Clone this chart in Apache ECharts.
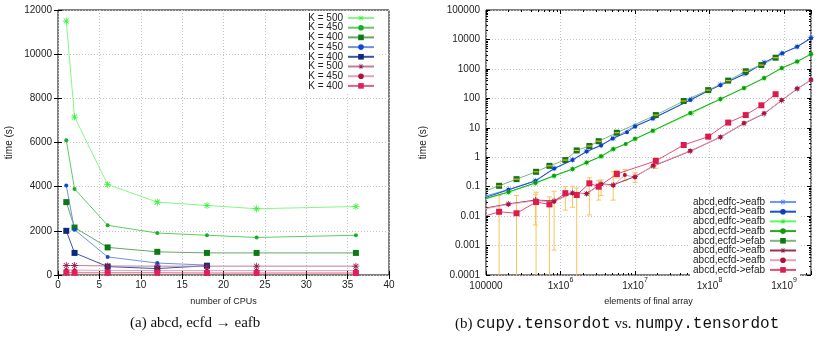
<!DOCTYPE html>
<html><head><meta charset="utf-8">
<script src="https://cdn.jsdelivr.net/npm/echarts@6/dist/echarts.min.js"></script>
<style>html,body{margin:0;padding:0;background:#fff}#c{width:830px;height:337px}</style>
</head><body><div id="c"></div>
<script>
// ---------- Left panel data (number of CPUs vs time) ----------
const cpuX = [1, 2, 6, 12, 18, 24, 36];
const k500green = [11500, 7150, 4100, 3300, 3150, 3000, 3100];
const k450green = [6100, 3900, 2250, 1900, 1800, 1700, 1800];
const k400green = [3300, 2150, 1250, 1050, 1000, 1000, 1000];
const cpuXblue = [1, 2, 6, 12, 18];
const k450blue = [4050, 2050, 820, 540, 450];
const k400blue = [2000, 1000, 380, 290, 420];
const k500red = [430, 430, 410, 400, 400, 400, 400];
const k450red = [230, 220, 210, 200, 200, 200, 200];
const k400red = [110, 100, 100, 100, 90, 90, 90];
const leftNames = ['K = 500', 'K = 450', 'K = 400', 'K = 450', 'K = 400', 'K = 500', 'K = 450', 'K = 400'];
const leftXTicks = [0, 5, 10, 15, 20, 25, 30, 35, 40];
const leftYTicks = [0, 2000, 4000, 6000, 8000, 10000, 12000];

// ---------- Right panel data (elements of final array vs time) ----------
const blueAstX = [9e4, 2e5, 4.6e5, 8.2e5, 1.45e6, 2.24e6, 3.5e6, 5.1e6, 1e7, 1.75e7, 5.7e7, 1.4e8, 2.9e8, 5.4e8, 9.3e8, 1.5e9, 2.3e9];
const blueAstY = [0.045, 0.08, 0.16, 0.42, 0.82, 1.6, 2.6, 4.4, 11.5, 21, 93, 290, 670, 1650, 3300, 5700, 11500];
const blueDotX = [9e4, 2e5, 4.6e5, 8.2e5, 1.45e6, 2.24e6, 3.5e6, 5e6, 7.8e6, 1e7, 1.73e7, 5.5e7, 1e8, 1.4e8, 3.1e8, 5.4e8, 9.5e8, 1.5e9, 2.3e9];
const blueDotY = [0.04, 0.078, 0.155, 0.41, 0.8, 1.55, 2.5, 4.3, 7, 11, 20.5, 87, 190, 280, 700, 1600, 3400, 5600, 11000];
const greenAstX = [9e4, 2e5, 4.6e5, 8.2e5, 1.45e6, 2.24e6, 3.5e6, 5.1e6, 1e7, 1.75e7, 5.7e7, 1.4e8, 2.9e8, 5.4e8, 9.3e8, 1.5e9, 2.3e9];
const greenAstY = [0.036, 0.064, 0.13, 0.23, 0.39, 0.65, 1.05, 1.85, 4.1, 7.9, 31, 93, 220, 480, 1050, 1750, 3150];
const greenDotX = [9e4, 2e5, 4.6e5, 8.2e5, 1.45e6, 2.24e6, 3.5e6, 5.1e6, 7.5e6, 1e7, 1.73e7, 5.5e7, 1.4e8, 2.9e8, 5.4e8, 9.3e8, 1.5e9, 2.3e9];
const greenDotY = [0.037, 0.066, 0.135, 0.235, 0.4, 0.66, 1.07, 1.9, 2.8, 4.2, 8, 32, 95, 225, 490, 1070, 1780, 3200];
const sqX = [9e4, 1.5e5, 2.57e5, 4.7e5, 7.1e5, 1.16e6, 1.65e6, 2.44e6, 3.25e6, 5.7e6, 1.9e7, 4.5e7, 9.6e7, 1.78e8, 3.06e8, 4.96e8, 7.7e8];
const greenSqY = [0.065, 0.107, 0.18, 0.32, 0.51, 0.8, 1.7, 2.4, 3.5, 6.8, 27, 81, 190, 400, 830, 1350, 2400];
const redSqY = [0.0095, 0.014, 0.0125, 0.03, 0.025, 0.06, 0.052, 0.13, 0.1, 0.27, 0.75, 2.6, 5, 15, 27, 58, 138];
const redAstX = [9e4, 2e5, 4.6e5, 8.2e5, 1.45e6, 2.24e6, 3.5e6, 5.1e6, 1e7, 1.75e7, 5.5e7, 1.4e8, 2.9e8, 5.4e8, 9.3e8, 1.5e9, 2.3e9];
const redAstY = [0.018, 0.026, 0.035, 0.033, 0.062, 0.058, 0.125, 0.115, 0.22, 0.5, 1.6, 4.8, 14, 30, 85, 210, 420];
const redDotX = [9e4, 2e5, 4.6e5, 8.2e5, 1.45e6, 2.24e6, 3.5e6, 5.1e6, 7.3e6, 1e7, 1.75e7, 5.5e7, 1.4e8, 2.9e8, 5.4e8, 9.3e8, 1.5e9, 2.3e9];
const redDotY = [0.017, 0.025, 0.033, 0.031, 0.06, 0.057, 0.12, 0.11, 0.25, 0.21, 0.52, 1.65, 4.9, 14.5, 31, 87, 215, 425];
const errX = [1.5e5, 2.57e5, 4.6e5, 4.7e5, 7.1e5, 8.2e5, 1.16e6, 1.45e6, 1.65e6, 2.44e6, 3.25e6, 3.5e6, 5.1e6, 5.7e6, 7.3e6, 1e7, 1.9e7];
const errLow = [1e-5, 1e-5, 0.005, 1e-5, 1e-5, 0.0007, 0.016, 0.02, 1e-5, 0.011, 0.035, 0.05, 0.035, 0.2, 0.16, 0.14, 0.42];
const errHigh = [0.05, 0.05, 0.055, 0.065, 0.045, 0.07, 0.1, 0.1, 0.09, 0.2, 0.16, 0.17, 0.33, 0.35, 0.38, 0.3, 0.95];
const rightNames = ['abcd,edfc->eafb', 'abcd,ecfd->eafb', 'abcd,edfc->eafb', 'abcd,ecfd->eafb', 'abcd,ecfd->efab', 'abcd,edfc->eafb', 'abcd,ecfd->eafb', 'abcd,ecfd->efab'];

const FONT = 'Liberation Sans';
const AST = 'path://M-0.9,-8L0.9,-8L0.9,8L-0.9,8ZM-8,-0.9L8,-0.9L8,0.9L-8,0.9ZM-6.3,-5L-5,-6.3L6.3,5L5,6.3ZM5,-6.3L6.3,-5L-5,6.3L-6.3,5Z';
const pairs = (xs, ys) => xs.map((x, i) => [x, ys[i]]);

const leftIds = ['a1','a2','a3','a4','a5','a6','a7','a8'];
const rightIds = ['b1','b2','b3','b4','b5','b6','b7','b8'];
const nameMap = {};
leftIds.forEach((id, i) => nameMap[id] = leftNames[i]);
rightIds.forEach((id, i) => nameMap[id] = rightNames[i]);

function ls(id, xi, yi, data, sym, size, markColor, lineColor) {
  return {
    type: 'line', name: id, xAxisIndex: xi, yAxisIndex: yi, data: data,
    symbol: sym, symbolSize: size, showSymbol: true, clip: true,
    itemStyle: { color: markColor }, lineStyle: { color: lineColor, width: 1 },
    emphasis: { disabled: true }, animation: false, z: 3
  };
}

const gridLine = { show: true, lineStyle: { color: '#c4c4c4', type: [1, 2], width: 1 } };
const tickIn = { show: true, inside: true, length: 4, lineStyle: { color: '#000' } };
const labelStyle = { fontFamily: FONT, fontSize: 10, color: '#222' };

function xLogLabel(v) {
  const e = Math.round(Math.log10(v));
  if (e === 5) return '{b|100000}';
  return '{b|1x10}{s|' + e + '}';
}
function yLogLabel(v) {
  const e = Math.round(Math.log10(v));
  return e >= 0 ? String(Math.pow(10, e)) : Math.pow(10, e).toFixed(-e);
}

const series = [
  ls('a1', 0, 0, pairs(cpuX, k500green), AST, 7, '#3cf03c', '#86f886'),
  ls('a2', 0, 0, pairs(cpuX, k450green), 'circle', 4, '#14b024', '#5ccc60'),
  ls('a3', 0, 0, pairs(cpuX, k400green), 'rect', 6, '#0b7a16', '#64a866'),
  ls('a4', 0, 0, pairs(cpuXblue, k450blue), 'circle', 4, '#1048d0', '#7090e0'),
  ls('a5', 0, 0, pairs(cpuXblue, k400blue), 'rect', 6, '#0c2a7c', '#3656a8'),
  ls('a6', 0, 0, pairs(cpuX, k500red), AST, 7, '#8c2050', '#c07f98'),
  ls('a7', 0, 0, pairs(cpuX, k450red), 'circle', 4, '#b01040', '#e8a0b8'),
  ls('a8', 0, 0, pairs(cpuX, k400red), 'rect', 6, '#e0205a', '#e06080'),
  {
    type: 'custom', xAxisIndex: 2, yAxisIndex: 2, clip: true, z: 1, animation: false, silent: true,
    data: errX.map((x, i) => [x, errLow[i], errHigh[i]]),
    renderItem: function (params, api) {
      const x = api.value(0);
      const p1 = api.coord([x, api.value(2)]);
      const p2 = api.coord([x, api.value(1)]);
      const st = { stroke: '#fbc35a', lineWidth: 1 };
      return { type: 'group', children: [
        { type: 'line', shape: { x1: p1[0], y1: p1[1], x2: p2[0], y2: p2[1] }, style: st },
        { type: 'line', shape: { x1: p1[0] - 2.5, y1: p1[1], x2: p1[0] + 2.5, y2: p1[1] }, style: st },
        { type: 'line', shape: { x1: p2[0] - 2.5, y1: p2[1], x2: p2[0] + 2.5, y2: p2[1] }, style: st }
      ] };
    }
  },
  ls('b1', 2, 2, pairs(blueAstX, blueAstY), AST, 6, '#4a7cf0', '#6a98ff'),
  ls('b2', 2, 2, pairs(blueDotX, blueDotY), 'circle', 4, '#0a3fc0', '#1a4fd0'),
  ls('b3', 2, 2, pairs(greenAstX, greenAstY), AST, 6, '#33ee33', '#55ff55'),
  ls('b4', 2, 2, pairs(greenDotX, greenDotY), 'circle', 4, '#119911', '#22aa22'),
  ls('b5', 2, 2, pairs(sqX, greenSqY), 'rect', 6, '#117711', '#77bb77'),
  ls('b6', 2, 2, pairs(redAstX, redAstY), AST, 6, '#8a2045', '#993355'),
  ls('b7', 2, 2, pairs(redDotX, redDotY), 'circle', 4, '#b01040', '#e8a0b5'),
  ls('b8', 2, 2, pairs(sqX, redSqY), 'rect', 6, '#dd1a50', '#e05075'),
  {
    type: 'custom', xAxisIndex: 2, yAxisIndex: 2, clip: true, z: 5, animation: false, silent: true,
    data: pairs(sqX, greenSqY),
    renderItem: function (params, api) {
      const p = api.coord([api.value(0), api.value(1)]);
      return { type: 'line', shape: { x1: p[0] - 2.5, y1: p[1], x2: p[0] + 2.5, y2: p[1] }, style: { stroke: '#f0b030', lineWidth: 1.2 } };
    }
  }
];

const legendBase = {
  orient: 'vertical', align: 'right', itemWidth: 26, itemHeight: 7, itemGap: -0.3,
  backgroundColor: '#fff', padding: [1, 3, 1, 3],
  textStyle: { fontFamily: FONT, fontSize: 10, color: '#222' },
  formatter: n => nameMap[n], selectedMode: false
};

const option = {
  animation: false,
  grid: [
    { left: 58, top: 10, width: 331, height: 265, show: true, borderColor: '#000', borderWidth: 1, backgroundColor: 'transparent' },
    { left: 486, top: 10, width: 325, height: 265, show: true, borderColor: '#000', borderWidth: 1, backgroundColor: 'transparent' }
  ],
  legend: [
    Object.assign({}, legendBase, { data: leftIds, right: 452, top: 12 }),
    Object.assign({}, legendBase, { data: rightIds, right: 30, top: 196 })
  ],
  xAxis: [
    { type: 'value', gridIndex: 0, min: leftXTicks[0], max: leftXTicks[leftXTicks.length - 1], interval: 5,
      name: 'number of CPUs', nameLocation: 'middle', nameGap: 22, nameTextStyle: { fontFamily: FONT, fontSize: 9, color: '#222' },
      axisLine: { show: false }, axisTick: tickIn, axisLabel: Object.assign({ margin: 5, formatter: v => String(v) }, labelStyle), splitLine: gridLine },
    { type: 'value', gridIndex: 0, position: 'top', min: 0, max: 40, interval: 5,
      axisLine: { show: false }, axisTick: tickIn, axisLabel: { show: false }, splitLine: { show: false } },
    { type: 'log', logBase: 10, gridIndex: 1, min: 1e5, max: 2.3e9,
      name: 'elements of final array', nameLocation: 'middle', nameGap: 22, nameTextStyle: { fontFamily: FONT, fontSize: 9, color: '#222' },
      axisLine: { show: false }, axisTick: tickIn,
      minorTick: { show: true, splitNumber: 9, length: 2, lineStyle: { color: '#000' } },
      axisLabel: { margin: 2, showMaxLabel: false, formatter: xLogLabel, fontFamily: FONT, fontSize: 10, color: '#222',
        rich: { b: { fontFamily: FONT, fontSize: 10, color: '#222', lineHeight: 14, verticalAlign: 'bottom' },
                s: { fontFamily: FONT, fontSize: 7, color: '#222', lineHeight: 14, verticalAlign: 'top' } } },
      splitLine: gridLine },
    { type: 'log', logBase: 10, gridIndex: 1, position: 'top', min: 1e5, max: 2.3e9,
      axisLine: { show: false }, axisTick: tickIn, minorTick: { show: true, splitNumber: 9, length: 2, lineStyle: { color: '#000' } },
      axisLabel: { show: false }, splitLine: { show: false } }
  ],
  yAxis: [
    { type: 'value', gridIndex: 0, min: leftYTicks[0], max: leftYTicks[leftYTicks.length - 1], interval: 2000,
      name: 'time (s)', nameLocation: 'middle', nameGap: 44, nameTextStyle: { fontFamily: FONT, fontSize: 10, color: '#222' },
      axisLine: { show: false }, axisTick: tickIn, axisLabel: Object.assign({ margin: 6, formatter: v => String(v) }, labelStyle), splitLine: gridLine },
    { type: 'value', gridIndex: 0, position: 'right', min: 0, max: 12000, interval: 2000,
      axisLine: { show: false }, axisTick: tickIn, axisLabel: { show: false }, splitLine: { show: false } },
    { type: 'log', logBase: 10, gridIndex: 1, min: 1e-4, max: 1e5,
      name: 'time (s)', nameLocation: 'middle', nameGap: 58, nameTextStyle: { fontFamily: FONT, fontSize: 10, color: '#222' },
      axisLine: { show: false }, axisTick: tickIn, minorTick: { show: true, splitNumber: 9, length: 2, lineStyle: { color: '#000' } },
      axisLabel: Object.assign({ margin: 6, formatter: yLogLabel }, labelStyle), splitLine: gridLine },
    { type: 'log', logBase: 10, gridIndex: 1, position: 'right', min: 1e-4, max: 1e5,
      axisLine: { show: false }, axisTick: tickIn, minorTick: { show: true, splitNumber: 9, length: 2, lineStyle: { color: '#000' } },
      axisLabel: { show: false }, splitLine: { show: false } }
  ],
  graphic: [
    { type: 'text', left: 130, top: 316, style: { text: '(a) abcd, ecfd \u2192 eafb', font: '15px "Liberation Serif"', fill: '#111' } },
    { type: 'text', left: 455, top: 316, style: {
        text: '(b) {m|cupy.tensordot} vs. {m|numpy.tensordot}', font: '15px "Liberation Serif"', fill: '#111',
        rich: { m: { fontFamily: 'Liberation Mono', fontSize: 16, fill: '#111' } } } }
  ],
  series: series
};

const chart = echarts.init(document.getElementById('c'), null, { renderer: 'canvas' });
chart.setOption(option);
</script></body></html>
